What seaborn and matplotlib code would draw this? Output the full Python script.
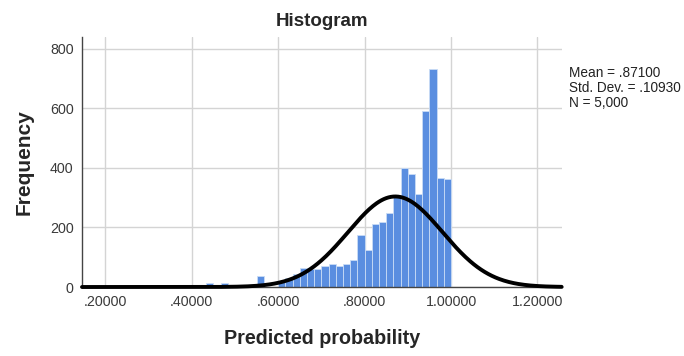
import numpy as np
import pandas as pd
import matplotlib
matplotlib.use("Agg")
import matplotlib.pyplot as plt
import seaborn as sns

# =========================
# Data
# =========================
bin_width = 1 / 60
bin_starts = [26, 28, 33,
              36, 37, 38, 39, 40, 41, 42, 43, 44, 45, 46, 47,
              48, 49, 50, 51, 52, 53, 54, 55, 56, 57, 58, 59]   # in units of 1/60
counts = [15, 13, 38,
          20, 30, 45, 65, 62, 62, 72, 78, 72, 78, 90, 175,
          125, 213, 218, 248, 305, 400, 380, 312, 590, 733, 365, 362]

mean_val = 0.87100
std_val = 0.10930
n_total = 5000

x_ticks = [0.2, 0.4, 0.6, 0.8, 1.0, 1.2]
y_ticks = [0, 200, 400, 600, 800]

df = pd.DataFrame({
    "center": (np.array(bin_starts) + 0.5) * bin_width,
    "count": counts,
})

# =========================
# Plot
# =========================
sns.set_style("white")
plt.rcParams["font.family"] = ["Liberation Sans", "DejaVu Sans"]

fig = plt.figure(figsize=(6.84, 3.56), dpi=100)
ax = fig.add_axes([0.1199, 0.1938, 0.7012, 0.7031])

sns.histplot(data=df, x="center", weights="count", binwidth=bin_width,
             binrange=(0, 1), color="#5a8ee0", alpha=1.0,
             edgecolor="#c9dcf5", linewidth=0.6, ax=ax, zorder=2)

# fitted normal curve
xs = np.linspace(0.146, 1.256, 400)
pdf = np.exp(-0.5 * ((xs - mean_val) / std_val) ** 2) / (std_val * np.sqrt(2 * np.pi))
sns.lineplot(x=xs, y=pdf * n_total * bin_width, color="black", linewidth=2.8,
             ax=ax, zorder=3, clip_on=False)

ax.set_xlim(0.146, 1.256)
ax.set_ylim(0, 841)
ax.set_xticks(x_ticks)
ax.set_xticklabels([f"{v:.5f}".lstrip("0") if v < 1 else f"{v:.5f}" for v in x_ticks])
ax.set_yticks(y_ticks)
ax.tick_params(length=0, labelsize=10.3, labelcolor="#3a3a3a", pad=6)
ax.grid(True, color="#d4d4d4", linewidth=1, zorder=0)
ax.set_axisbelow(True)

for side in ["top", "right"]:
    ax.spines[side].set_visible(False)
for side in ["left", "bottom"]:
    ax.spines[side].set_color("#444444")
    ax.spines[side].set_linewidth(1)

ax.set_xlabel("Predicted probability", fontsize=14.2, fontweight="bold", labelpad=14)
ax.set_ylabel("Frequency", fontsize=15, fontweight="bold", labelpad=12)
ax.set_title("Histogram", fontsize=13.5, fontweight="bold", pad=8)

fig.text(0.832, 0.815, "Mean = .87100\nStd. Dev. = .10930\nN = 5,000",
         fontsize=9.8, va="top", ha="left", color="#222222", linespacing=1.1)

fig.savefig("out.png", dpi=100)
